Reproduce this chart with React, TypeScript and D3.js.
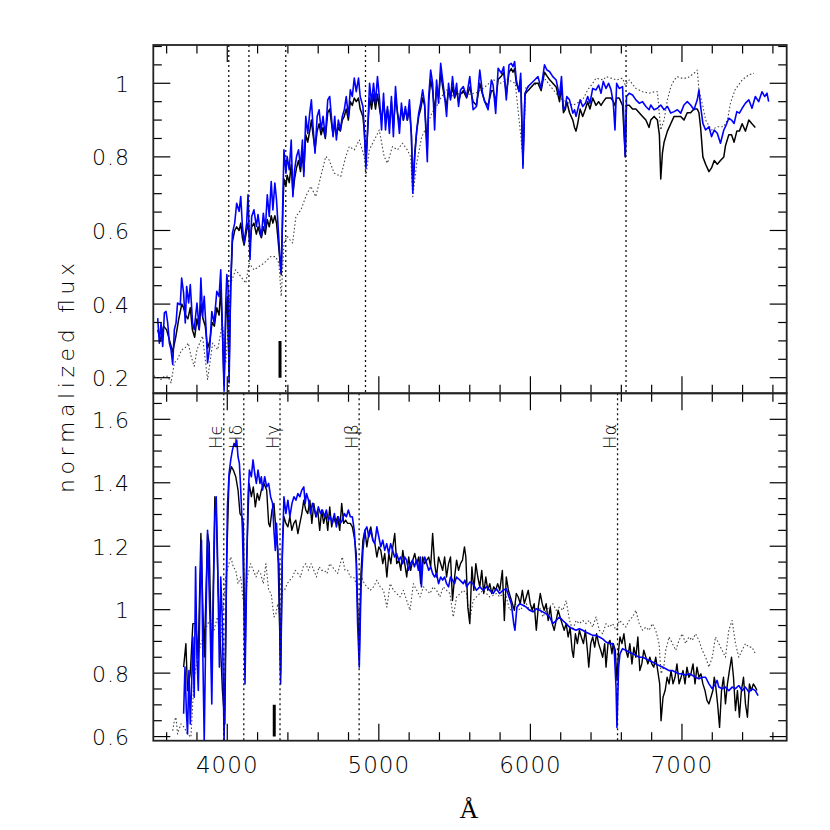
import React from "react";
import * as d3 from "d3";

// ---------- axis / annotation data ----------
const xTickValues = d3.range(3600, 7601, 200);
const xLabelValues = [4000, 5000, 6000, 7000];
const topTickValues = d3.range(0.2, 1.1001, 0.05);
const topLabelValues = [0.2, 0.4, 0.6, 0.8, 1];
const botTickValues = d3.range(0.6, 1.6501, 0.05);
const botLabelValues = [0.6, 0.8, 1, 1.2, 1.4, 1.6];

const topBalmer = [4010, 4143, 4386, 4912, 6631];
const botBalmer = [3977, 4109, 4348, 4870, 6575];
const balmerNames = ["H\u03f5", "H\u03b4", "H\u03b3", "H\u03b2", "H\u03b1"];
const topMarker = [4348, 0.2, 0.3];
const botMarker = [4310, 0.6, 0.7];

// ---------- top panel spectra ----------
const topBlue: [number, number][] = [
[3541,0.362],[3552,0.294],[3563,0.349],[3574,0.285],[3585,0.376],[3596,0.380],[3607,0.349],[3618,0.294],[3629,0.276],[3640,0.236],[3651,0.331],[3662,0.349],[3672,0.403],[3690,0.398],[3699,0.471],[3712,0.430],[3723,0.349],[3732,0.448],[3745,0.403],[3756,0.453],[3771,0.349],[3782,0.331],[3800,0.403],[3815,0.331],[3826,0.471],[3837,0.367],[3848,0.421],[3861,0.326],[3870,0.240],[3885,0.285],[3898,0.380],[3913,0.349],[3931,0.435],[3946,0.421],[3957,0.493],[3968,0.331],[3979,0.163],[3990,0.403],[3997,0.480],[4005,0.448],[4012,0.186],[4023,0.457],[4034,0.593],[4049,0.620],[4062,0.674],[4078,0.652],[4089,0.692],[4100,0.611],[4111,0.566],[4128,0.620],[4137,0.697],[4150,0.521],[4161,0.638],[4176,0.656],[4192,0.611],[4203,0.643],[4216,0.602],[4225,0.584],[4238,0.647],[4251,0.602],[4264,0.697],[4277,0.638],[4290,0.733],[4301,0.656],[4314,0.729],[4325,0.683],[4334,0.620],[4347,0.530],[4356,0.484],[4367,0.692],[4374,0.819],[4387,0.756],[4395,0.801],[4409,0.765],[4422,0.846],[4433,0.692],[4444,0.765],[4457,0.801],[4470,0.819],[4483,0.774],[4496,0.846],[4505,0.747],[4518,0.910],[4531,0.864],[4544,0.919],[4555,0.955],[4566,0.882],[4579,0.810],[4593,0.910],[4606,0.928],[4619,0.873],[4632,0.910],[4647,0.855],[4663,0.955],[4676,0.964],[4685,0.919],[4698,0.855],[4709,0.910],[4720,0.846],[4733,0.900],[4746,0.873],[4759,0.910],[4772,0.928],[4785,0.964],[4799,0.910],[4812,0.982],[4825,0.964],[4838,1.014],[4851,0.977],[4866,1.014],[4877,0.964],[4895,0.937],[4904,0.873],[4915,0.769],[4926,0.873],[4939,1.000],[4952,0.946],[4965,1.000],[4978,0.946],[4991,1.018],[5005,0.955],[5018,0.873],[5031,0.973],[5044,0.873],[5057,0.937],[5070,0.864],[5083,0.964],[5096,0.855],[5110,0.991],[5123,0.919],[5136,0.864],[5149,0.946],[5162,0.900],[5175,0.937],[5188,0.900],[5202,0.955],[5215,0.855],[5224,0.701],[5237,0.801],[5250,0.873],[5263,0.919],[5276,0.946],[5289,0.982],[5302,0.946],[5311,0.864],[5320,0.787],[5329,0.964],[5342,1.036],[5355,1.000],[5368,0.873],[5381,1.009],[5394,0.946],[5408,1.054],[5421,1.009],[5434,0.964],[5447,0.910],[5460,1.000],[5473,0.955],[5486,1.018],[5500,0.964],[5513,1.000],[5526,0.937],[5539,0.982],
[5557,0.991],[5579,0.964],[5600,1.018],[5622,0.928],[5644,0.937],[5655,0.982],[5666,1.036],[5684,0.973],[5699,0.950],[5721,0.928],[5743,1.009],[5754,0.995],[5771,0.918],[5787,1.041],[5809,1.027],[5824,1.045],[5841,0.955],[5859,1.050],[5874,1.054],[5885,1.045],[5896,1.059],[5907,1.009],[5925,0.977],[5936,1.027],[5951,0.769],[5964,0.973],[5984,0.991],[6006,1.000],[6028,1.009],[6050,1.018],[6071,0.986],[6093,1.050],[6109,1.036],[6126,1.032],[6148,1.018],[6170,1.009],[6192,0.964],[6205,1.018],[6218,0.928],[6231,0.937],[6240,0.964],[6258,0.955],[6280,0.919],[6291,0.928],[6301,0.910],[6312,0.928],[6328,0.955],[6345,0.937],[6363,0.946],[6378,0.964],[6393,0.946],[6411,0.986],[6433,0.982],[6450,0.995],[6466,0.973],[6481,1.005],[6499,0.986],[6516,1.000],[6532,0.982],[6547,0.946],[6558,0.873],[6569,1.000],[6586,0.986],[6608,0.991],[6626,0.801],[6634,0.964],[6652,0.973],[6674,0.968],[6696,0.955],[6718,0.946],[6740,0.950],[6762,0.937],[6783,0.928],[6794,0.941],[6816,0.928],[6838,0.932],[6860,0.941],[6882,0.928],[6904,0.937],[6926,0.919],[6948,0.923],[6970,0.928],[6992,0.919],[7013,0.941],[7035,0.950],[7057,0.941],[7079,0.928],[7101,0.955],[7112,0.982],[7123,0.937],[7138,0.891],[7156,0.873],[7178,0.882],[7195,0.855],[7213,0.873],[7233,0.864],[7254,0.837],[7276,0.873],[7287,0.882],[7309,0.905],[7327,0.900],[7344,0.891],[7362,0.923],[7379,0.919],[7397,0.932],[7419,0.946],[7441,0.955],[7462,0.932],[7484,0.964],[7506,0.950],[7528,0.977],[7546,0.964],[7561,0.973],[7572,0.950]
];

const topBlack: [number, number][] = [
[3541,0.33],[3560,0.30],[3580,0.34],[3600,0.33],[3620,0.30],[3640,0.27],[3660,0.31],[3680,0.36],[3700,0.40],[3712,0.39],[3725,0.37],[3740,0.36],[3756,0.39],[3770,0.33],[3785,0.31],[3800,0.36],[3815,0.33],[3826,0.40],[3840,0.36],[3855,0.34],[3870,0.28],[3885,0.30],[3900,0.35],[3915,0.34],[3931,0.39],[3946,0.37],[3957,0.44],[3968,0.33],[3979,0.18],[3990,0.36],[4000,0.42],[4012,0.22],[4023,0.45],[4034,0.57],[4049,0.60],[4062,0.61],[4078,0.60],[4089,0.62],[4100,0.58],[4111,0.56],[4128,0.60],[4137,0.62],[4150,0.56],[4161,0.61],[4176,0.62],[4192,0.59],[4203,0.61],[4216,0.59],[4225,0.58],[4238,0.61],[4251,0.59],[4264,0.63],[4277,0.61],[4290,0.64],[4301,0.62],[4314,0.64],[4325,0.62],[4334,0.58],[4347,0.52],[4356,0.48],[4367,0.66],[4374,0.74],[4387,0.72],[4395,0.75],[4409,0.73],[4422,0.78],[4433,0.70],[4444,0.74],[4457,0.77],[4470,0.79],[4483,0.76],[4496,0.81],[4505,0.76],[4518,0.86],[4531,0.84],[4544,0.87],[4555,0.90],[4566,0.86],[4579,0.82],[4593,0.87],[4606,0.89],[4619,0.86],[4632,0.88],[4647,0.85],[4663,0.92],[4676,0.93],[4685,0.90],[4698,0.86],[4709,0.89],[4720,0.86],[4733,0.88],[4746,0.87],[4759,0.90],[4772,0.91],[4785,0.93],[4799,0.90],[4812,0.95],[4825,0.94],[4838,0.96],[4851,0.95],[4866,0.96],[4877,0.93],[4895,0.91],[4904,0.87],[4915,0.79],[4926,0.87],[4939,0.96],[4952,0.93],[4965,0.97],[4978,0.93],[4991,0.97],[5005,0.93],[5018,0.90],[5031,0.95],[5044,0.90],[5057,0.93],[5070,0.89],[5083,0.95],[5096,0.88],[5110,0.96],[5123,0.92],[5136,0.89],[5149,0.93],[5162,0.90],[5175,0.93],[5188,0.90],[5202,0.93],[5215,0.86],[5224,0.72],[5237,0.81],[5250,0.87],[5263,0.91],[5276,0.93],[5289,0.96],[5302,0.94],[5320,0.82],[5329,0.95],[5342,1.01],[5355,0.98],[5368,0.92],[5381,0.99],[5394,0.96],[5408,1.03],[5421,0.99],[5434,0.96],[5447,0.94],[5460,0.98],[5473,0.96],[5486,0.99],[5500,0.96],[5513,0.98],[5526,0.95],[5539,0.97],[5557,0.98],[5579,0.96],[5600,0.99],[5622,0.95],[5644,0.94],[5666,1.00],[5684,0.97],[5699,0.95],[5721,0.94],[5743,0.98],[5754,0.98],[5771,0.95],[5787,1.01],[5809,1.02],[5824,1.03],[5841,0.97],[5859,1.03],[5874,1.04],[5885,1.03],[5896,1.04],[5907,1.00],[5925,0.98],[5936,1.01],[5951,0.78],[5964,0.97],[5984,0.98],[6006,0.99],[6028,1.00],[6050,1.00],[6071,0.98],[6093,1.03],[6109,1.02],[6126,1.01],[6148,1.00],[6170,0.99],[6192,0.95],[6205,0.99],[6218,0.92],[6231,0.93],[6240,0.95],[6258,0.92],[6280,0.90],[6291,0.88],[6301,0.87],[6312,0.89],[6328,0.93],[6345,0.91],[6363,0.93],[6378,0.95],[6393,0.93],[6411,0.96],[6433,0.94],[6450,0.95],[6466,0.94],[6481,0.95],[6499,0.96],[6516,0.96],[6532,0.96],[6547,0.95],[6558,0.94],[6569,0.96],[6586,0.96],[6608,0.94],[6626,0.80],[6634,0.94],[6652,0.94],[6674,0.93],[6696,0.93],[6718,0.92],[6740,0.91],[6762,0.90],[6783,0.88],[6794,0.90],[6816,0.91],[6838,0.90],[6851,0.86],[6860,0.74],[6871,0.81],[6882,0.84],[6904,0.87],[6926,0.89],[6948,0.91],[6970,0.91],[6992,0.91],[7013,0.90],[7035,0.92],[7057,0.92],[7079,0.93],[7101,0.93],[7112,0.92],[7123,0.88],[7138,0.80],[7156,0.78],[7178,0.76],[7195,0.77],[7213,0.79],[7233,0.78],[7254,0.79],[7276,0.80],[7287,0.83],[7309,0.86],[7327,0.86],[7344,0.84],[7362,0.87],[7379,0.87],[7397,0.89],[7419,0.87],[7441,0.90],[7462,0.89],[7484,0.88]
];

const topDotted: [number, number][] = [
[3515,0.205],[3541,0.200],[3563,0.195],[3585,0.204],[3607,0.204],[3629,0.186],[3651,0.240],[3672,0.250],[3699,0.276],[3720,0.280],[3743,0.294],[3760,0.260],[3782,0.231],[3800,0.276],[3837,0.313],[3870,0.195],[3904,0.294],[3937,0.276],[3968,0.349],[3990,0.240],[4023,0.457],[4055,0.493],[4089,0.475],[4122,0.457],[4145,0.511],[4176,0.493],[4209,0.502],[4242,0.511],[4286,0.529],[4319,0.529],[4341,0.511],[4356,0.421],[4374,0.566],[4395,0.584],[4431,0.566],[4453,0.638],[4486,0.656],[4518,0.692],[4551,0.720],[4584,0.692],[4617,0.747],[4650,0.801],[4672,0.792],[4705,0.756],[4749,0.747],[4782,0.801],[4805,0.828],[4838,0.819],[4871,0.846],[4904,0.801],[4915,0.747],[4937,0.819],[4970,0.846],[5003,0.873],[5035,0.801],[5057,0.783],[5090,0.828],[5123,0.819],[5156,0.837],[5188,0.819],[5210,0.800],[5224,0.692],[5250,0.783],[5283,0.855],[5316,0.882],[5349,0.919],[5381,0.937],[5414,0.964],[5447,0.982],[5490,0.964],[5535,0.973],[5600,0.970],[5650,0.975],[5700,0.990],[5754,1.010],[5800,1.000],[5850,1.010],[5900,1.000],[5951,0.800],[5970,0.990],[6000,0.990],[6100,1.010],[6192,0.960],[6280,0.940],[6345,0.955],[6378,0.982],[6411,1.000],[6433,1.014],[6481,1.009],[6499,1.018],[6532,1.014],[6569,1.009],[6608,1.014],[6626,0.995],[6652,1.009],[6696,0.986],[6740,0.977],[6783,0.973],[6820,0.977],[6838,0.977],[6860,0.873],[6882,0.900],[6904,0.955],[6926,0.990],[6948,1.009],[6970,1.018],[6992,1.014],[7035,1.014],[7079,1.027],[7101,1.036],[7112,0.982],[7138,0.937],[7156,0.900],[7195,0.873],[7233,0.882],[7276,0.882],[7300,0.900],[7320,0.946],[7350,0.982],[7397,1.009],[7441,1.023],[7475,1.027]
];

// ---------- bottom panel spectra ----------
const botBlue: [number, number][] = [
[3712,0.672],[3721,0.819],[3730,0.682],[3738,0.608],[3747,0.808],[3756,0.640],[3765,0.766],[3773,0.914],[3782,0.724],[3791,1.135],[3800,0.851],[3809,0.745],[3820,1.040],[3830,1.219],[3839,0.851],[3848,0.587],[3859,0.956],[3870,1.250],[3878,1.103],[3887,0.956],[3898,0.703],[3909,1.061],[3918,1.293],[3927,1.356],[3935,1.187],[3948,0.819],[3957,1.103],[3968,0.956],[3979,0.587],[3990,0.956],[4001,1.324],[4012,1.430],[4023,1.472],[4034,1.503],[4045,1.524],[4056,1.514],[4062,1.535],[4071,1.482],[4080,1.461],[4089,1.377],[4100,1.250],[4111,1.008],[4117,0.766],[4128,1.114],[4137,1.356],[4146,1.440],[4159,1.419],[4170,1.472],[4181,1.430],[4192,1.398],[4203,1.440],[4216,1.398],[4225,1.419],[4233,1.377],[4247,1.419],[4260,1.387],[4273,1.398],[4286,1.356],[4299,1.335],[4308,1.250],[4317,1.187],[4325,1.272],[4334,1.166],[4341,1.145],[4352,0.766],[4363,1.166],[4374,1.356],[4387,1.303],[4400,1.345],[4413,1.293],[4427,1.335],[4440,1.356],[4453,1.345],[4466,1.366],[4479,1.356],[4492,1.377],[4505,1.387],[4514,1.335],[4523,1.366],[4536,1.345],[4549,1.303],[4562,1.335],[4575,1.314],[4588,1.293],[4601,1.324],[4615,1.303],[4628,1.314],[4641,1.293],[4654,1.314],[4667,1.282],[4680,1.293],[4693,1.272],[4707,1.303],[4720,1.261],[4733,1.293],[4746,1.272],[4759,1.282],[4772,1.303],[4786,1.293],[4799,1.314],[4812,1.293],[4825,1.293],[4838,1.250],[4851,1.145],[4860,0.956],[4871,0.819],[4882,1.061],[4895,1.187],[4908,1.250],[4921,1.261],[4934,1.229],[4947,1.250],[4960,1.219],[4973,1.208],[4987,1.261],[5000,1.229],[5013,1.198],[5026,1.219],[5039,1.187],[5052,1.208],[5065,1.177],[5078,1.208],[5091,1.187],[5104,1.166],[5117,1.177],[5131,1.156],[5144,1.166],[5157,1.145],[5170,1.166],[5183,1.156],[5196,1.124],[5209,1.145],[5222,1.156],[5235,1.135],[5248,1.156],[5261,1.124],[5274,1.166],[5281,1.072],[5290,1.145],[5303,1.166],[5316,1.145],[5329,1.124],[5342,1.135],[5355,1.114],[5368,1.103],[5381,1.114],[5394,1.082],[5408,1.103],[5421,1.093],[5434,1.103],[5447,1.082],[5460,1.072],[5473,1.103],[5486,1.093],[5499,1.082],[5512,1.103],[5535,1.093],[5557,1.082],[5568,1.093],[5579,1.072],[5600,1.087],[5622,1.082],[5644,1.061],[5666,1.072],[5688,1.061],[5710,1.072],[5732,1.061],[5754,1.051],[5775,1.066],[5797,1.051],[5819,1.061],[5841,1.066],[5859,1.040],[5874,1.019],[5890,0.956],[5898,0.935],[5911,1.008],[5929,1.019],[5951,1.014],[5973,1.008],[5995,0.998],[6017,0.993],[6039,1.003],[6061,0.998],[6082,0.993],[6104,0.987],[6126,0.977],[6148,0.956],[6170,0.966],[6192,0.977],[6214,0.966],[6236,0.956],[6258,0.945],[6280,0.940],[6301,0.935],[6323,0.940],[6345,0.935],[6367,0.929],[6389,0.924],[6411,0.919],[6433,0.919],[6455,0.914],[6477,0.908],[6499,0.898],[6521,0.893],[6543,0.893],[6553,0.872],[6565,0.756],[6571,0.629],[6582,0.819],[6591,0.861],[6608,0.877],[6630,0.872],[6652,0.866],[6674,0.861],[6696,0.856],[6718,0.850],[6740,0.850],[6762,0.845],[6783,0.840],[6805,0.835],[6827,0.829],[6849,0.824],[6871,0.819],[6893,0.814],[6915,0.808],[6937,0.808],[6958,0.803],[6980,0.798],[7002,0.798],[7024,0.793],[7046,0.798],[7068,0.793],[7090,0.787],[7112,0.782],[7134,0.787],[7156,0.787],[7178,0.766],[7199,0.751],[7221,0.766],[7232,0.777],[7243,0.756],[7265,0.751],[7287,0.756],[7309,0.745],[7331,0.756],[7353,0.751],[7375,0.761],[7397,0.745],[7419,0.756],[7441,0.740],[7462,0.751],[7484,0.745],[7502,0.729]
];

const botBlack: [number, number][] = [
[3712,0.819],[3727,0.893],[3738,0.745],[3756,0.800],[3773,0.956],[3793,0.956],[3808,0.850],[3826,1.240],[3848,0.851],[3870,1.240],[3881,1.208],[3898,0.800],[3918,1.356],[3927,1.314],[3940,1.061],[3968,0.745],[3984,0.640],[3997,1.166],[4012,1.419],[4027,1.451],[4040,1.440],[4056,1.419],[4071,1.377],[4084,1.303],[4097,1.293],[4106,1.272],[4117,0.819],[4128,1.166],[4144,1.398],[4159,1.356],[4172,1.387],[4185,1.324],[4198,1.366],[4211,1.345],[4225,1.377],[4242,1.398],[4260,1.377],[4273,1.272],[4282,1.261],[4295,1.314],[4308,1.335],[4321,1.250],[4334,1.187],[4352,0.798],[4365,1.219],[4374,1.293],[4387,1.272],[4400,1.261],[4413,1.293],[4426,1.250],[4439,1.272],[4452,1.282],[4466,1.240],[4479,1.272],[4492,1.303],[4505,1.345],[4518,1.314],[4531,1.303],[4545,1.345],[4558,1.272],[4571,1.335],[4584,1.293],[4597,1.314],[4610,1.250],[4623,1.314],[4636,1.272],[4650,1.303],[4663,1.250],[4676,1.324],[4689,1.261],[4702,1.293],[4715,1.272],[4728,1.293],[4742,1.250],[4755,1.335],[4768,1.272],[4781,1.282],[4794,1.272],[4812,1.272],[4825,1.261],[4838,1.229],[4851,1.177],[4860,1.008],[4871,0.850],[4882,1.114],[4895,1.219],[4908,1.250],[4921,1.198],[4934,1.240],[4947,1.261],[4961,1.219],[4974,1.208],[4987,1.166],[5000,1.198],[5013,1.187],[5026,1.145],[5039,1.177],[5053,1.103],[5066,1.177],[5079,1.145],[5092,1.198],[5105,1.240],[5118,1.145],[5132,1.156],[5145,1.124],[5158,1.187],[5171,1.145],[5184,1.103],[5197,1.166],[5210,1.124],[5224,1.156],[5237,1.177],[5250,1.145],[5263,1.166],[5276,1.082],[5289,1.166],[5302,1.145],[5316,1.156],[5329,1.166],[5342,1.135],[5355,1.240],[5368,1.145],[5381,1.103],[5394,1.166],[5408,1.145],[5421,1.124],[5434,1.166],[5447,1.103],[5460,1.145],[5473,1.166],[5486,1.029],[5500,1.103],[5513,1.156],[5526,1.124],[5539,1.145],[5552,1.156],[5565,1.198],[5574,1.166],[5587,1.008],[5600,0.956],[5614,1.135],[5627,1.061],[5640,1.145],[5653,1.103],[5666,1.072],[5679,1.124],[5692,1.051],[5706,1.103],[5719,1.061],[5732,1.082],[5745,1.051],[5758,1.072],[5771,1.061],[5784,1.082],[5798,1.061],[5815,1.124],[5828,0.966],[5841,1.103],[5855,1.061],[5868,1.040],[5881,1.019],[5894,0.998],[5907,1.051],[5920,1.040],[5933,1.019],[5947,1.061],[5960,1.019],[5973,1.040],[5986,1.061],[5999,1.019],[6012,0.998],[6025,1.019],[6039,0.935],[6052,1.008],[6065,1.051],[6078,1.019],[6091,0.998],[6104,1.019],[6117,0.966],[6131,1.008],[6144,0.956],[6157,0.935],[6170,0.966],[6183,0.998],[6196,0.977],[6209,0.956],[6223,0.935],[6236,0.956],[6249,0.914],[6262,0.945],[6275,0.872],[6284,0.850],[6297,0.924],[6310,0.893],[6323,0.935],[6336,0.914],[6350,0.893],[6363,0.935],[6376,0.872],[6385,0.819],[6398,0.893],[6411,0.914],[6424,0.882],[6437,0.924],[6450,0.893],[6464,0.872],[6477,0.850],[6490,0.893],[6499,0.819],[6512,0.893],[6525,0.903],[6538,0.861],[6547,0.893],[6560,0.872],[6571,0.777],[6582,0.872],[6591,0.914],[6604,0.893],[6617,0.924],[6630,0.872],[6643,0.850],[6656,0.893],[6670,0.829],[6683,0.882],[6696,0.850],[6709,0.914],[6722,0.808],[6735,0.829],[6748,0.872],[6762,0.850],[6775,0.829],[6788,0.850],[6801,0.829],[6814,0.819],[6827,0.850],[6840,0.808],[6853,0.766],[6862,0.650],[6875,0.724],[6889,0.745],[6902,0.787],[6915,0.766],[6928,0.808],[6941,0.766],[6954,0.787],[6967,0.829],[6981,0.766],[6994,0.787],[7007,0.808],[7020,0.766],[7033,0.819],[7046,0.787],[7059,0.798],[7073,0.829],[7086,0.766],[7099,0.819],[7112,0.787],[7125,0.798],[7138,0.766],[7152,0.745],[7165,0.714],[7178,0.703],[7191,0.724],[7204,0.745],[7213,0.787],[7221,0.766],[7235,0.703],[7248,0.629],[7261,0.745],[7274,0.787],[7287,0.703],[7300,0.766],[7313,0.808],[7327,0.850],[7340,0.787],[7353,0.682],[7366,0.745],[7379,0.661],[7392,0.745],[7406,0.787],[7419,0.703],[7432,0.661],[7445,0.766],[7458,0.745],[7471,0.766],[7484,0.756],[7495,0.745]
];

const botDotted: [number, number][] = [
[3640,0.619],[3651,0.650],[3662,0.661],[3672,0.608],[3694,0.640],[3716,0.629],[3738,0.608],[3760,0.598],[3782,0.787],[3804,0.850],[3826,0.893],[3848,0.924],[3870,0.956],[3892,0.966],[3913,0.935],[3935,0.977],[3957,0.903],[3975,1.019],[3990,1.103],[4005,1.135],[4023,1.166],[4040,1.135],[4056,1.124],[4071,1.082],[4089,1.103],[4102,1.040],[4117,0.998],[4133,1.103],[4154,1.145],[4172,1.124],[4190,1.103],[4203,1.124],[4220,1.114],[4238,1.082],[4255,1.145],[4273,1.061],[4290,1.051],[4308,0.977],[4321,0.987],[4334,1.019],[4352,0.956],[4365,1.061],[4378,1.061],[4395,1.082],[4413,1.093],[4431,1.103],[4448,1.124],[4466,1.114],[4483,1.103],[4501,1.135],[4518,1.145],[4536,1.124],[4553,1.145],[4571,1.124],[4588,1.103],[4606,1.135],[4623,1.124],[4641,1.124],[4658,1.114],[4676,1.145],[4693,1.135],[4711,1.124],[4728,1.114],[4746,1.145],[4759,1.166],[4777,1.124],[4794,1.124],[4812,1.103],[4834,1.103],[4851,1.082],[4871,0.966],[4886,1.103],[4904,1.082],[4921,1.072],[4943,1.061],[4965,1.072],[4987,1.093],[5009,1.072],[5031,1.061],[5053,1.008],[5075,1.082],[5097,1.061],[5118,1.051],[5140,1.040],[5162,1.061],[5184,1.029],[5206,0.998],[5228,1.082],[5250,1.061],[5272,1.040],[5294,1.072],[5316,1.061],[5338,1.051],[5359,1.072],[5381,1.061],[5403,1.040],[5425,1.072],[5447,1.061],[5469,1.051],[5491,0.977],[5513,1.040],[5535,1.050],[5557,1.061],[5579,1.051],[5600,0.966],[5622,1.029],[5644,1.040],[5666,1.051],[5688,1.061],[5710,1.051],[5732,1.040],[5754,1.045],[5776,1.051],[5798,1.040],[5819,1.051],[5841,1.040],[5863,0.998],[5885,1.008],[5907,1.019],[5929,0.998],[5951,1.008],[5973,1.019],[5995,0.998],[6017,1.008],[6039,0.998],[6061,1.008],[6082,0.977],[6104,0.998],[6126,1.008],[6148,1.019],[6170,0.998],[6192,1.008],[6214,0.998],[6236,1.029],[6258,0.966],[6280,0.935],[6301,0.966],[6323,0.956],[6345,0.966],[6367,0.956],[6389,0.966],[6411,0.945],[6433,0.977],[6455,0.935],[6477,0.924],[6499,0.956],[6521,0.945],[6543,0.956],[6565,0.935],[6587,0.966],[6608,0.956],[6630,0.945],[6652,0.966],[6674,0.977],[6696,0.998],[6718,0.956],[6740,0.935],[6762,0.945],[6783,0.935],[6805,0.956],[6827,0.935],[6849,0.893],[6862,0.798],[6880,0.819],[6893,0.872],[6915,0.914],[6937,0.893],[6959,0.872],[6980,0.903],[7002,0.924],[7024,0.893],[7046,0.914],[7068,0.903],[7090,0.924],[7112,0.903],[7134,0.872],[7156,0.850],[7178,0.819],[7200,0.850],[7221,0.914],[7243,0.893],[7265,0.872],[7287,0.850],[7309,0.935],[7331,0.966],[7353,0.893],[7375,0.850],[7397,0.872],[7419,0.893],[7441,0.882],[7462,0.882],[7484,0.861]
];

// ---------- layout ----------
const LEFT = 153.3;
const RIGHT = 786.7;
const TOP = 45;
const MID = 393.3;
const BOTTOM = 740.7;
const MAJOR = 17;
const MINOR = 8.5;
const FONT = "'DejaVu Sans', sans-serif";

const isMultiple = (v: number, step: number) =>
  Math.abs(v / step - Math.round(v / step)) < 1e-6;

type Series = { data: [number, number][]; color: string; width: number; dash?: string };

function Panel(props: {
  id: string;
  y: d3.ScaleLinear<number, number>;
  x: d3.ScaleLinear<number, number>;
  y0: number;
  y1: number;
  series: Series[];
  balmer: number[];
  names?: string[];
  marker: number[];
  yTicks: number[];
  yLabels: number[];
}) {
  const { id, x, y, y0, y1, series, balmer, names, marker, yTicks, yLabels } = props;
  const line = d3
    .line<[number, number]>()
    .x((d) => x(d[0]))
    .y((d) => y(d[1]));
  return (
    <g>
      <defs>
        <clipPath id={id}>
          <rect x={LEFT} y={y0} width={RIGHT - LEFT} height={y1 - y0} />
        </clipPath>
      </defs>
      <g clipPath={`url(#${id})`}>
        {series.map((s, i) => (
          <path
            key={i}
            d={line(s.data) || ""}
            fill="none"
            stroke={s.color}
            strokeWidth={s.width}
            strokeDasharray={s.dash}
            strokeLinejoin="round"
          />
        ))}
        {balmer.map((w, i) => (
          <line
            key={"b" + i}
            x1={x(w)}
            x2={x(w)}
            y1={y0}
            y2={y1}
            stroke="#111"
            strokeWidth={1.3}
            strokeDasharray="2 3"
          />
        ))}
        <line
          x1={x(marker[0])}
          x2={x(marker[0])}
          y1={y(marker[1])}
          y2={y(marker[2])}
          stroke="#000"
          strokeWidth={3}
        />
      </g>
      {names &&
        balmer.map((w, i) => (
          <text
            key={"n" + i}
            transform={`translate(${x(w) - 1.5},449) rotate(-90)`}
            fontFamily={FONT}
            fontSize={18}
            fontWeight={200}
            fill="#000"
          >
            {names[i]}
          </text>
        ))}
      {/* x ticks */}
      {xTickValues.map((t) => {
        const len = isMultiple(t, 1000) ? MAJOR : MINOR;
        const px = x(t);
        return (
          <g key={"xt" + t}>
            <line x1={px} x2={px} y1={y1} y2={y1 - len} stroke="#000" strokeWidth={1.2} />
            <line x1={px} x2={px} y1={y0} y2={y0 + len} stroke="#000" strokeWidth={1.2} />
          </g>
        );
      })}
      {/* y ticks */}
      {yTicks.map((t) => {
        const len = isMultiple(t, 0.2) ? MAJOR : MINOR;
        const py = y(t);
        return (
          <g key={"yt" + t.toFixed(2)}>
            <line x1={LEFT} x2={LEFT + len} y1={py} y2={py} stroke="#000" strokeWidth={1.2} />
            <line x1={RIGHT} x2={RIGHT - len} y1={py} y2={py} stroke="#000" strokeWidth={1.2} />
          </g>
        );
      })}
      {yLabels.map((t) => (
        <text
          key={"yl" + t}
          x={130}
          y={y(t) + 1}
          textAnchor="end"
          dominantBaseline="central"
          fontFamily={FONT}
          fontSize={22}
          fontWeight={200}
          letterSpacing={1}
          fill="#000"
        >
          {String(+t.toFixed(1))}
        </text>
      ))}
      <rect
        x={LEFT}
        y={y0}
        width={RIGHT - LEFT}
        height={y1 - y0}
        fill="none"
        stroke="#222"
        strokeWidth={1.8}
      />
    </g>
  );
}

export default function App() {
  const x = d3.scaleLinear().domain([3512, 7691]).range([LEFT, RIGHT]);
  const yTop = d3.scaleLinear().domain([0.1576, 1.104]).range([MID, TOP]);
  const yBot = d3.scaleLinear().domain([0.587, 1.682]).range([BOTTOM, MID]);

  const dotted = "1.5 2.2";
  return (
    <svg
      width={830}
      height={830}
      style={{ position: "absolute", left: 0, top: 0, background: "#fff" }}
    >
      <rect x={0} y={0} width={830} height={830} fill="#fff" />
      <Panel
        id="clipTop"
        x={x}
        y={yTop}
        y0={TOP}
        y1={MID}
        series={[
          { data: topDotted, color: "#444", width: 1.1, dash: dotted },
          { data: topBlack, color: "#000", width: 1.5 },
          { data: topBlue, color: "#0000ff", width: 1.6 },
        ]}
        balmer={topBalmer}
        marker={topMarker}
        yTicks={topTickValues}
        yLabels={topLabelValues}
      />
      <Panel
        id="clipBot"
        x={x}
        y={yBot}
        y0={MID}
        y1={BOTTOM}
        series={[
          { data: botDotted, color: "#444", width: 1.1, dash: dotted },
          { data: botBlack, color: "#000", width: 1.4 },
          { data: botBlue, color: "#0000ff", width: 1.6 },
        ]}
        balmer={botBalmer}
        names={balmerNames}
        marker={botMarker}
        yTicks={botTickValues}
        yLabels={botLabelValues}
      />
      {xLabelValues.map((t) => (
        <text
          key={"xl" + t}
          x={x(t)}
          y={773}
          textAnchor="middle"
          fontFamily={FONT}
          fontSize={23}
          fontWeight={200}
          letterSpacing={1}
          fill="#000"
        >
          {t}
        </text>
      ))}
      <text
        transform="translate(74,378) rotate(-90)"
        textAnchor="middle"
        fontFamily={FONT}
        fontSize={22}
        fontWeight={200}
        textLength={230}
        lengthAdjust="spacing"
        fill="#000"
      >
        normalized flux
      </text>
      <text
        x={469}
        y={818}
        textAnchor="middle"
        fontFamily="'Liberation Serif', serif"
        fontSize={26}
        fill="#000"
      >
        Å
      </text>
    </svg>
  );
}
